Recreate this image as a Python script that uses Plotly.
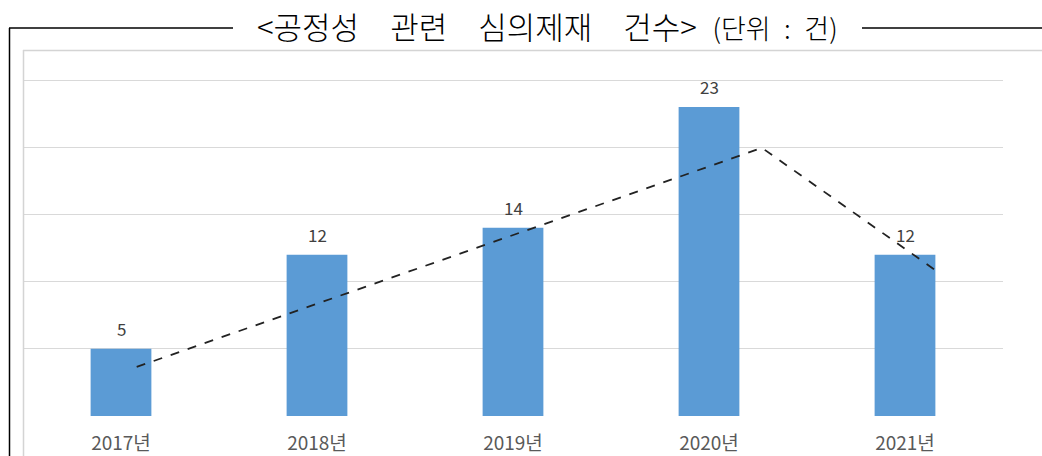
import plotly.graph_objects as go

categories = ["2017년", "2018년", "2019년", "2020년", "2021년"]
values = [5, 12, 14, 23, 12]
# hand-drawn dashed trend line (category position, value)
trend_x = [0.08, 3.27, 4.15]
trend_y = [3.65, 19.95, 10.9]

W, H = 1042, 456
L, R, T, B = 23, 39, 50, 40
pw, ph = W - L - R, H - T - B

def px(x):
    return (x - L) / pw

def py(y):
    return (H - B - y) / ph

pos = list(range(len(categories)))
FONT = "Noto Sans CJK KR"

fig = go.Figure()
fig.add_trace(go.Bar(
    x=pos, y=values, width=0.31,
    marker=dict(color="#5B9BD5", line=dict(width=0)),
))
fig.add_trace(go.Scatter(
    x=trend_x, y=trend_y, mode="lines",
    line=dict(color="#222222", width=1.8, dash="dash"),
))

shapes = [
    dict(type="line", xref="paper", yref="paper", x0=px(23.5), x1=px(23.5), y0=py(50), y1=py(456),
         line=dict(color="#d4d4d4", width=1.5)),
    dict(type="line", xref="paper", yref="paper", x0=px(23), x1=px(1042), y0=py(50.5), y1=py(50.5),
         line=dict(color="#d4d4d4", width=1.5)),
    dict(type="line", xref="paper", yref="paper", x0=px(9.5), x1=px(9.5), y0=py(28), y1=py(456),
         line=dict(color="black", width=1.5)),
    dict(type="line", xref="paper", yref="paper", x0=px(9), x1=px(233), y0=py(28), y1=py(28),
         line=dict(color="black", width=1.5)),
    dict(type="line", xref="paper", yref="paper", x0=px(862), x1=px(1042), y0=py(28), y1=py(28),
         line=dict(color="black", width=1.5)),
]

annotations = [dict(
    xref="paper", yref="paper", x=px(547), y=py(25), xanchor="center", yanchor="middle",
    showarrow=False,
    text="<span style='font-size:31px'>&lt;공정성\u2003관련\u2003심의제재\u2003건수&gt;</span>"
         "\u2002<span style='font-size:27px'>(단위\u2002:\u2002건)</span>",
    font=dict(color="black", family=FONT, size=31, weight=300),
)]
for p, v in zip(pos, values):
    annotations.append(dict(
        x=p, y=v, xref="x", yref="y", text=str(v), showarrow=False,
        yanchor="middle", yshift=20,
        font=dict(color="#404040", size=17, family=FONT),
    ))

fig.update_layout(
    width=W, height=H,
    margin=dict(l=L, r=R, t=T, b=B),
    paper_bgcolor="white", plot_bgcolor="white",
    showlegend=False,
    shapes=shapes,
    font=dict(family=FONT),
    annotations=annotations,
)
fig.update_xaxes(
    range=[-0.5, 4.5], tickvals=pos, ticktext=categories,
    showgrid=False, zeroline=False, showline=False, ticks="",
    ticklabelstandoff=14, automargin=False,
    tickfont=dict(color="#595959", size=19, family=FONT),
)
fig.update_yaxes(
    range=[0, (H - B - T) / 13.44], tickvals=[0, 5, 10, 15, 20, 25], showticklabels=False,
    showgrid=True, gridcolor="#d9d9d9", gridwidth=1.2, zeroline=False, showline=False,
    automargin=False,
)

fig.write_html("out.html")
